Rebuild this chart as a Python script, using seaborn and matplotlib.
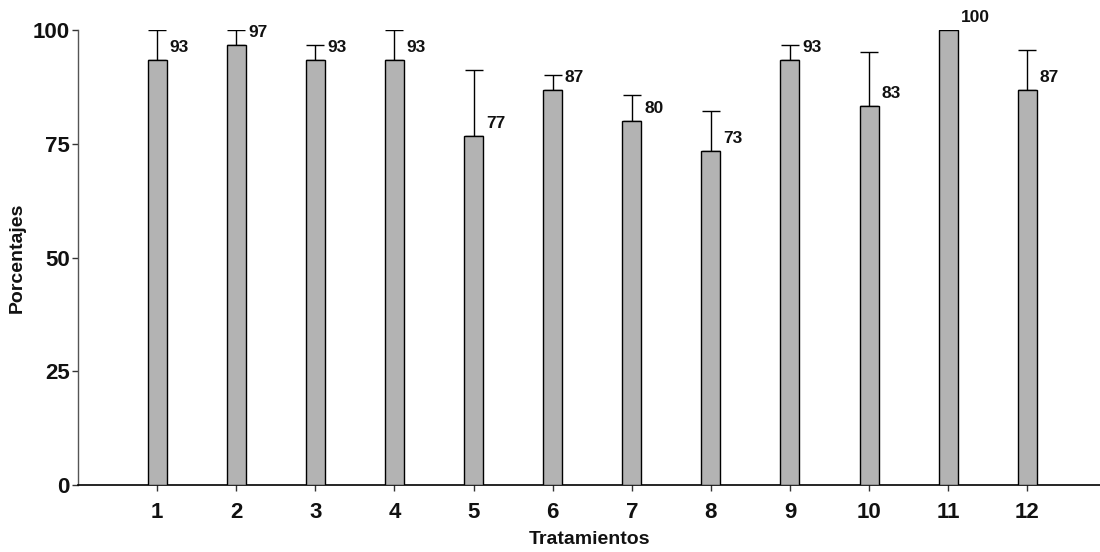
import pandas as pd
import numpy as np
import matplotlib
matplotlib.use('Agg')
import matplotlib.pyplot as plt
import seaborn as sns

OUTPUT_IMAGE = 'out.png'
BAR_COLOR = '#b3b3b3'

# Treatments and their mean percentages (upper error only)
tratamientos = ['1', '2', '3', '4', '5', '6', '7', '8', '9', '10', '11', '12']
porcentajes = [93.3, 96.7, 93.3, 93.3, 76.7, 86.7, 80.0, 73.3, 93.3, 83.3, 100.0, 86.7]
error_sup = [6.7, 3.3, 3.3, 6.7, 14.4, 3.3, 5.6, 8.8, 3.3, 11.9, 0.0, 8.8]
etiquetas = ['93', '97', '93', '93', '77', '87', '80', '73', '93', '83', '100', '87']


def main():
    df = pd.DataFrame({'tratamiento': tratamientos, 'porcentaje': porcentajes})

    sns.set_style('ticks')
    plt.rcParams['font.family'] = ['Liberation Sans', 'DejaVu Sans']
    plt.rcParams['font.weight'] = 'bold'

    fig = plt.figure(figsize=(11, 5.52), dpi=100)
    ax = fig.add_axes([0.071, 0.121, 0.929, 0.825])

    sns.barplot(data=df, x='tratamiento', y='porcentaje', ax=ax,
                color=BAR_COLOR, edgecolor='black', linewidth=1,
                width=0.24, errorbar=None, zorder=3)

    # one-sided error bars
    xs = np.arange(len(tratamientos))
    lower = np.zeros(len(error_sup))
    ax.errorbar(xs, porcentajes, yerr=[lower, error_sup], fmt='none',
                ecolor='black', elinewidth=1, capsize=6.8, capthick=1, zorder=2)

    # value labels to the right of each bar top
    for x, y, lab in zip(xs, porcentajes, etiquetas):
        ax.annotate(lab, xy=(x + 0.12, y), xytext=(2, 9), textcoords='offset points',
                    ha='left', va='center', fontsize=12.5, fontweight='bold',
                    color='#111111')

    ax.set_xlim(-1, 11.92)
    ax.set_ylim(0, 100)
    ax.set_yticks([0, 25, 50, 75, 100])
    ax.tick_params(axis='both', length=4, width=1, color='#333333',
                   labelsize=16, labelcolor='#111111')
    ax.tick_params(axis='y', pad=2)
    ax.tick_params(axis='x', pad=8)
    for lab in ax.get_xticklabels() + ax.get_yticklabels():
        lab.set_fontweight('bold')

    ax.set_xlabel('Tratamientos', fontsize=14, fontweight='bold', labelpad=6,
                  color='#111111')
    ax.set_ylabel('Porcentajes', fontsize=14, fontweight='bold', color='#111111')
    ax.yaxis.set_label_coords(-0.051, 0.5)

    sns.despine(ax=ax)
    ax.spines['left'].set_color('#555555')
    ax.spines['bottom'].set_color('black')
    ax.spines['left'].set_linewidth(1)
    ax.spines['bottom'].set_linewidth(1.2)

    fig.savefig(OUTPUT_IMAGE, dpi=100)


if __name__ == "__main__":
    main()
